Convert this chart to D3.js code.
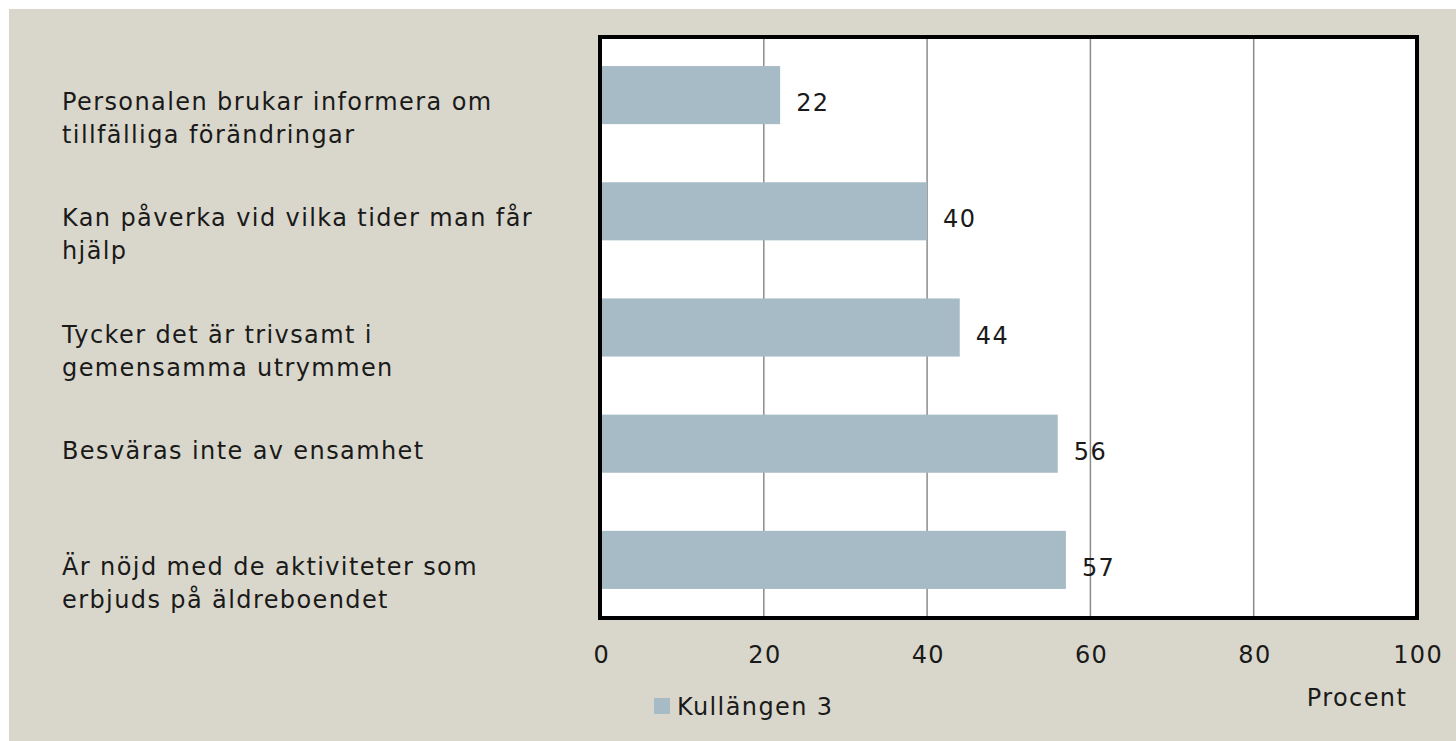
<!DOCTYPE html>
<html><head><meta charset="utf-8">
<script src="https://cdn.jsdelivr.net/npm/d3@7"></script>
<style>
html,body{margin:0;padding:0;background:#fff;}
text{font-family:"DejaVu Sans",sans-serif;fill:#1a1a1a;letter-spacing:1.4px;}
</style></head>
<body>
<svg id="chart" width="1456" height="741"></svg>
<script>
const categories = [
  ["Personalen brukar informera om", "tillfälliga förändringar"],
  ["Kan påverka vid vilka tider man får", "hjälp"],
  ["Tycker det är trivsamt i", "gemensamma utrymmen"],
  ["Besväras inte av ensamhet"],
  ["Är nöjd med de aktiviteter som", "erbjuds på äldreboendet"]
];
const values = [22, 40, 44, 56, 57];
const ticks = [0, 20, 40, 60, 80, 100];
const seriesName = "Kullängen 3";
const axisTitle = "Procent";

(function () {
const svg = d3.select("#chart");
svg.append("rect").attr("x", 9).attr("y", 9).attr("width", 1447).attr("height", 732).attr("fill", "#d9d7cb");

const pL = 600.5, pR = 1417, pT = 37, pB = 618;
const x = d3.scaleLinear().domain([0, 100]).range([pL, pR]);
const y = d3.scaleBand().domain(d3.range(categories.length)).range([pT, pB]).paddingInner(0.5).paddingOuter(0.25);

svg.append("rect").attr("x", pL).attr("y", pT).attr("width", pR - pL).attr("height", pB - pT).attr("fill", "#fff");

svg.append("g").selectAll("line").data(ticks.slice(1, -1)).join("line")
  .attr("x1", d => x(d)).attr("x2", d => x(d)).attr("y1", pT).attr("y2", pB)
  .attr("stroke", "#8c8c8c").attr("stroke-width", 1.5);

svg.append("g").selectAll("rect").data(values).join("rect")
  .attr("x", x(0)).attr("y", (d, i) => y(i)).attr("width", d => x(d) - x(0)).attr("height", y.bandwidth())
  .attr("fill", "#a7bbc6");

svg.append("g").selectAll("text").data(values).join("text")
  .attr("x", d => x(d) + 16).attr("y", (d, i) => y(i) + y.bandwidth() / 2 + 16)
  .attr("font-size", 24).text(d => d);

svg.append("rect").attr("x", pL - 0.5).attr("y", pT).attr("width", pR - pL + 0.5).attr("height", pB - pT)
  .attr("fill", "none").attr("stroke", "#000").attr("stroke-width", 4);

const cat = svg.append("g").selectAll("text").data(categories).join("text")
  .attr("x", 62).attr("y", (d, i) => y(i) + y.bandwidth() / 2 + 15).attr("font-size", 24);
cat.selectAll("tspan").data(d => d).join("tspan")
  .attr("x", 62).attr("dy", (d, j) => j === 0 ? 0 : 33).text(d => d);

const axis = d3.axisBottom(x).tickValues(ticks).tickSize(0).tickPadding(0);
const ax = svg.append("g").attr("transform", `translate(0,${pB})`).call(axis);
ax.select(".domain").remove();
ax.selectAll("text").attr("y", 45).attr("dy", 0).attr("dx", 0.7).attr("font-size", 24)
  .style("font-family", "DejaVu Sans").style("letter-spacing", "1.4px").attr("fill", "#1a1a1a");

svg.append("text").attr("x", 1357).attr("y", 706).attr("text-anchor", "middle").attr("font-size", 24).text(axisTitle);

svg.append("rect").attr("x", 654).attr("y", 698).attr("width", 16).attr("height", 16).attr("fill", "#a7bbc6");
svg.append("text").attr("x", 677).attr("y", 715).attr("font-size", 24).text(seriesName);
})();
</script>
</body></html>
